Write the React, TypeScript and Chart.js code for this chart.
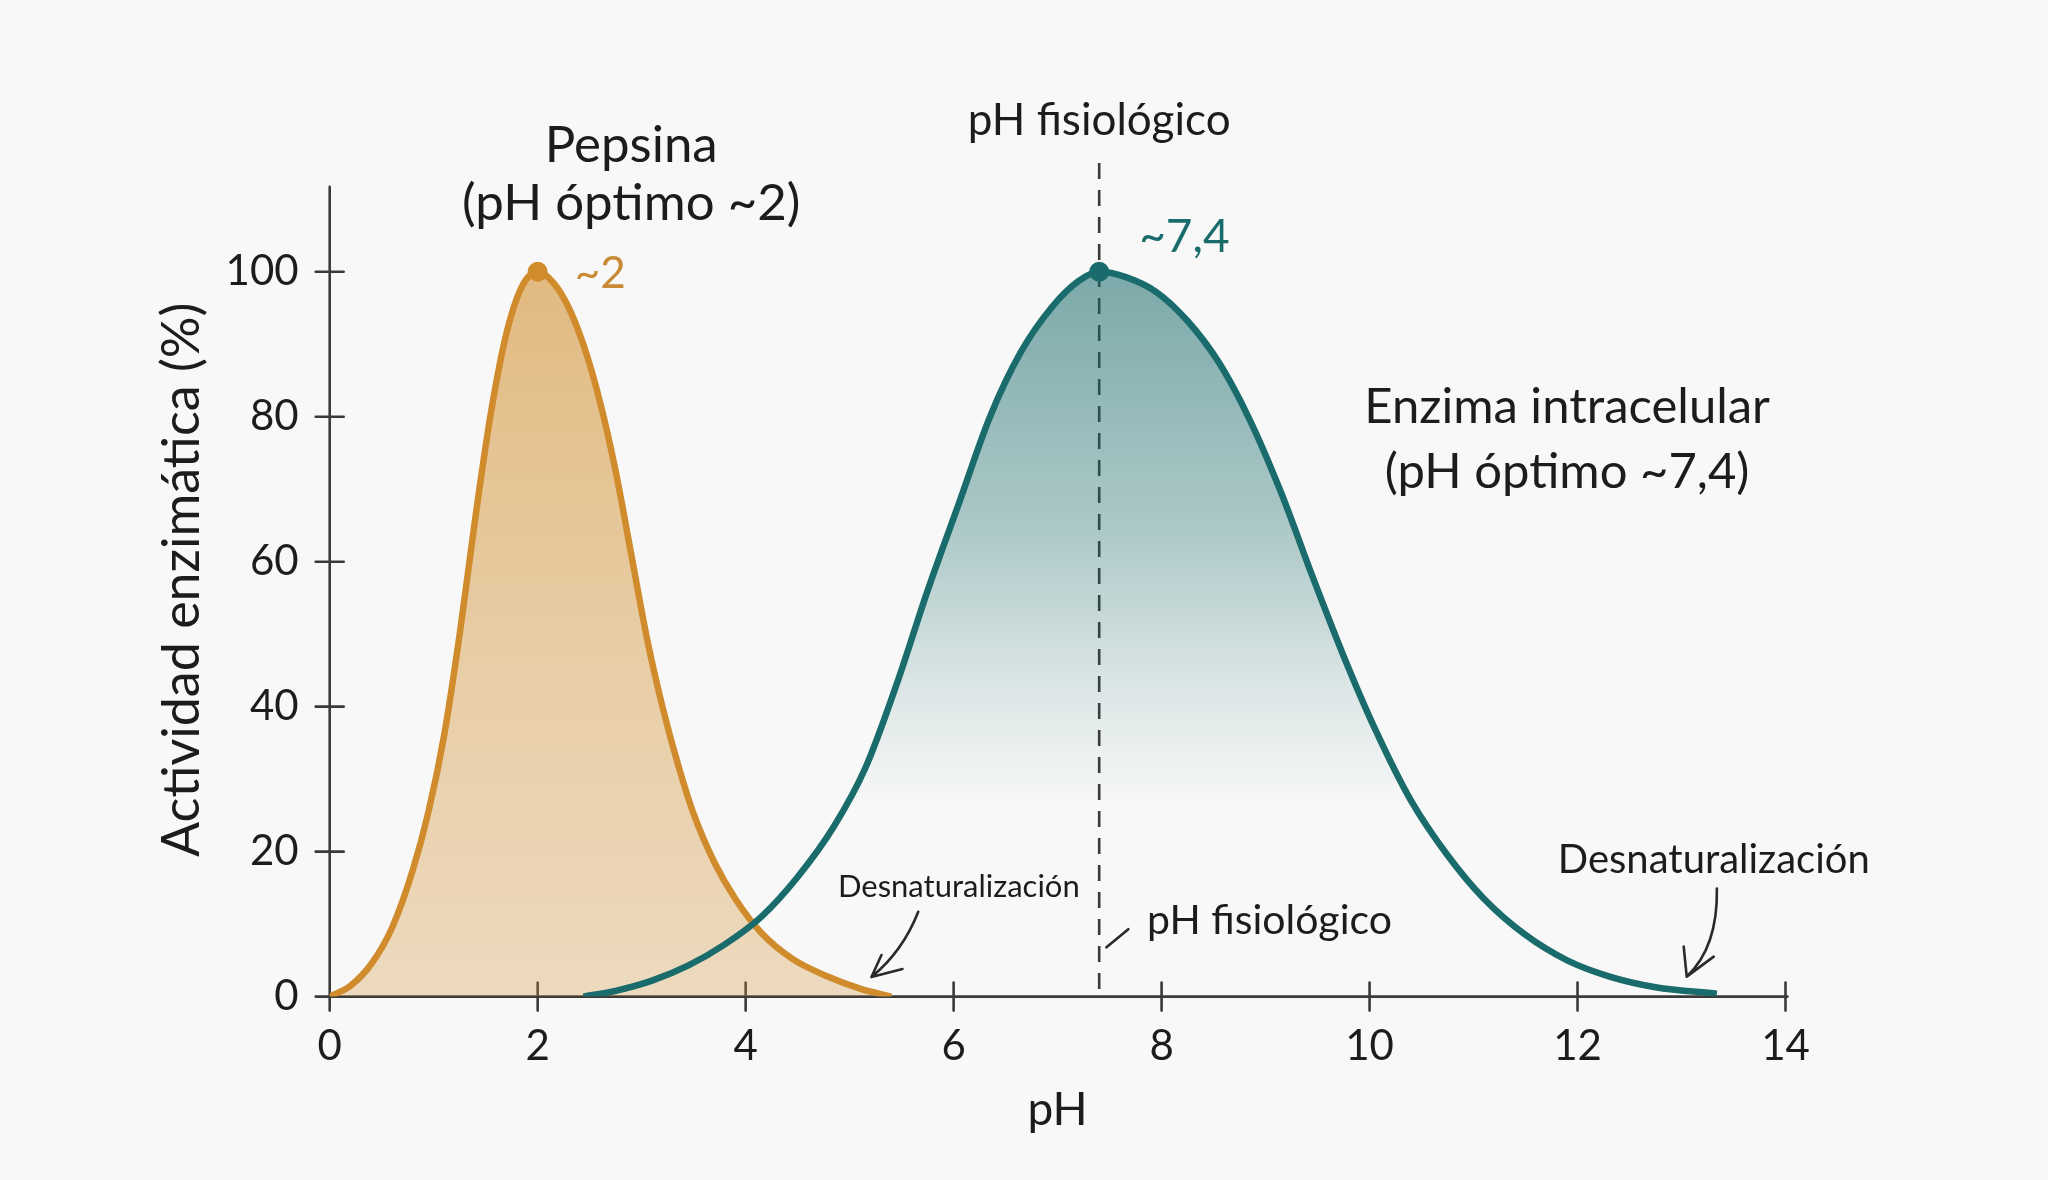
import React, { useEffect, useRef } from "react";
import { Chart, registerables } from "chart.js";

Chart.register(...registerables);

const FONT = "Lato, 'Open Sans', sans-serif";
const INK = "#1c1c1c";
const AXIS = "#3a3a3a";
const ORANGE = "#D08B2C";
const TEAL = "#1A6B6B";

// Axis ticks
const xTicks = [0, 2, 4, 6, 8, 10, 12, 14];
const yTicks = [0, 20, 40, 60, 80, 100];

// Pepsina: actividad (%) frente a pH
const pepsinaPH = [0, 0.2, 0.4, 0.6, 0.8, 0.95, 1.1, 1.25, 1.4, 1.55, 1.7, 1.85, 2.0, 2.15, 2.3, 2.45, 2.6, 2.75, 2.9, 3.05, 3.2, 3.35, 3.5, 3.7, 3.9, 4.15, 4.45, 4.8, 5.1, 5.4];
const pepsinaAct = [0, 1.5, 4.5, 9.5, 17.5, 25.5, 36, 50, 66, 80.5, 91.5, 98, 100, 98.5, 95, 89.5, 82, 72.5, 61, 49.5, 40, 32, 25.2, 18.5, 13.5, 8.8, 5.2, 2.7, 1.1, 0];

// Enzima intracelular: actividad (%) frente a pH
const enzimaPH = [2.44, 2.75, 3.1, 3.45, 3.8, 4.15, 4.5, 4.85, 5.15, 5.45, 5.75, 6.05, 6.35, 6.65, 6.95, 7.2, 7.4, 7.65, 7.95, 8.25, 8.55, 8.85, 9.15, 9.45, 9.75, 10.05, 10.4, 10.75, 11.1, 11.5, 11.9, 12.3, 12.75, 13.34];
const enzimaAct = [0, 0.8, 2.2, 4.3, 7.2, 11, 16.5, 23.5, 31.5, 43, 56, 68, 80, 89, 95.2, 98.7, 100, 99.3, 97.2, 93.2, 87.5, 79.5, 69.5, 58, 47, 37, 27, 19.5, 13.5, 8.5, 5, 2.8, 1.3, 0.4];

// Optimum and physiological pH
const pepsinaOptimo = 2;
const enzimaOptimo = 7.4;
const phFisiologico = 7.4;

const toPoints = (xs: number[], ys: number[]) => xs.map((x, i) => ({ x, y: ys[i] }));

function drawText(ctx: CanvasRenderingContext2D, s: string, x: number, y: number, size: number, color: string, align: CanvasTextAlign = "center") {
  ctx.font = `${size}px ${FONT}`;
  ctx.fillStyle = color;
  ctx.textAlign = align;
  ctx.textBaseline = "alphabetic";
  ctx.fillText(s, x, y);
}

function drawArrow(ctx: CanvasRenderingContext2D, s: number[], c: number[], t: number[], w1: number[], w2: number[]) {
  ctx.beginPath();
  ctx.moveTo(s[0], s[1]);
  ctx.quadraticCurveTo(c[0], c[1], t[0], t[1]);
  ctx.moveTo(t[0] + w1[0], t[1] + w1[1]);
  ctx.lineTo(t[0], t[1]);
  ctx.lineTo(t[0] + w2[0], t[1] + w2[1]);
  ctx.stroke();
}

const sketchPlugin = {
  id: "sketchAxes",
  beforeDatasetsDraw(chart: any) {
    const { ctx, scales } = chart;
    const x = scales.x;
    const y = scales.y;
    const x0 = x.getPixelForValue(0);
    const y0 = y.getPixelForValue(0);
    ctx.save();
    ctx.strokeStyle = AXIS;
    ctx.lineWidth = 2.6;
    ctx.lineCap = "round";
    ctx.beginPath();
    ctx.moveTo(x0, y.getPixelForValue(111.7));
    ctx.lineTo(x0, y0 + 14);
    ctx.moveTo(x0 - 14, y0);
    ctx.lineTo(x.getPixelForValue(14) + 2, y0);
    for (const v of xTicks) {
      if (v === 0) continue;
      const p = x.getPixelForValue(v);
      ctx.moveTo(p, y0 - 14);
      ctx.lineTo(p, y0 + 14);
    }
    for (const v of yTicks) {
      if (v === 0) continue;
      const p = y.getPixelForValue(v);
      ctx.moveTo(x0 - 14, p);
      ctx.lineTo(x0 + 14, p);
    }
    ctx.stroke();

    // physiological pH reference line
    const px = x.getPixelForValue(phFisiologico);
    ctx.setLineDash([16, 11]);
    ctx.lineCap = "butt";
    ctx.lineWidth = 2.6;
    ctx.beginPath();
    ctx.moveTo(px, y.getPixelForValue(115));
    ctx.lineTo(px, y0);
    ctx.stroke();
    ctx.restore();
  },
  afterDatasetsDraw(chart: any) {
    const { ctx, scales } = chart;
    const x = scales.x;
    const y = scales.y;
    const px = (v: number) => x.getPixelForValue(v);
    const py = (v: number) => y.getPixelForValue(v);
    ctx.save();

    // Pepsina heading and optimum label
    drawText(ctx, "Pepsina", px(2.9), py(115.2), 51, INK);
    drawText(ctx, "(pH óptimo ~2)", px(2.9), py(107.1), 51, INK);
    drawText(ctx, "~2", px(pepsinaOptimo) + 37, py(100) + 16, 44, "#C98A35", "left");

    // Intracellular enzyme heading and optimum label
    drawText(ctx, "~7,4", px(enzimaOptimo) + 40, py(100) - 20, 46, TEAL, "left");
    drawText(ctx, "Enzima intracelular", px(11.9), py(79.1), 49, INK);
    drawText(ctx, "(pH óptimo ~7,4)", px(11.9), py(70.2), 49, INK);

    // physiological pH captions
    drawText(ctx, "pH fisiológico", px(phFisiologico), py(118.8), 44, INK);
    drawText(ctx, "pH fisiológico", px(7.86), py(8.6), 41, INK, "left");

    // denaturation notes
    drawText(ctx, "Desnaturalización", px(6.05), py(13.7), 31, INK);
    drawText(ctx, "Desnaturalización", px(11.81), py(17), 40, INK, "left");

    ctx.strokeStyle = "#2a2a2a";
    ctx.lineWidth = 2.6;
    ctx.lineCap = "round";
    ctx.lineJoin = "round";
    ctx.beginPath();
    ctx.moveTo(px(7.47), py(6.8));
    ctx.lineTo(px(7.68), py(9.3));
    ctx.stroke();

    drawArrow(ctx, [px(5.66), py(11.7)], [px(5.51), py(6.2)], [px(5.21), py(2.7)], [10, -22], [31, -8]);
    drawArrow(ctx, [px(13.34), py(14.9)], [px(13.35), py(6.77)], [px(13.05), py(2.75)], [-3, -30], [27, -20]);

    ctx.restore();
  },
};

export default function App() {
  const canvasRef = useRef<HTMLCanvasElement | null>(null);

  useEffect(() => {
    const canvas = canvasRef.current;
    if (!canvas) return;

    const gradient = (chart: any, stops: [number, string][]) => {
      const { ctx, chartArea, scales } = chart;
      if (!chartArea) return stops[0][1];
      const g = ctx.createLinearGradient(0, scales.y.getPixelForValue(100), 0, scales.y.getPixelForValue(0));
      stops.forEach(([p, c]) => g.addColorStop(p, c));
      return g;
    };

    const chart = new Chart(canvas, {
      type: "line",
      data: {
        datasets: [
          {
            label: "Enzima intracelular",
            data: toPoints(enzimaPH, enzimaAct),
            borderColor: TEAL,
            borderWidth: 6.5,
            cubicInterpolationMode: "monotone",
            fill: "origin",
            backgroundColor: (c: any) =>
              gradient(c.chart, [
                [0, "rgba(26,107,107,0.56)"],
                [0.35, "rgba(26,107,107,0.34)"],
                [0.6, "rgba(26,107,107,0.1)"],
                [0.74, "rgba(26,107,107,0)"],
                [1, "rgba(26,107,107,0)"],
              ]),
            pointRadius: (c: any) => (c.raw && c.raw.x === enzimaOptimo ? 10 : 0),
            pointBackgroundColor: TEAL,
            pointBorderWidth: 0,
          },
          {
            label: "Pepsina",
            data: toPoints(pepsinaPH, pepsinaAct),
            borderColor: ORANGE,
            borderWidth: 6.5,
            cubicInterpolationMode: "monotone",
            fill: "origin",
            backgroundColor: (c: any) =>
              gradient(c.chart, [
                [0, "rgba(212,148,56,0.62)"],
                [0.5, "rgba(212,148,56,0.44)"],
                [1, "rgba(212,148,56,0.3)"],
              ]),
            pointRadius: (c: any) => (c.raw && c.raw.x === pepsinaOptimo ? 10 : 0),
            pointBackgroundColor: ORANGE,
            pointBorderWidth: 0,
          },
        ],
      },
      options: {
        responsive: false,
        maintainAspectRatio: false,
        devicePixelRatio: 1,
        animation: false,
        layout: { padding: { top: 163, right: 262.5, left: 0, bottom: 0 } },
        plugins: { legend: { display: false }, tooltip: { enabled: false } },
        scales: {
          x: {
            type: "linear",
            min: 0,
            max: 14,
            afterBuildTicks: (s: any) => {
              s.ticks = xTicks.map((v) => ({ value: v }));
            },
            afterFit: (s: any) => {
              s.height = 183.4;
            },
            ticks: { font: { family: FONT, size: 42 }, color: INK, padding: 25, maxRotation: 0, autoSkip: false },
            grid: { display: false, drawTicks: false },
            border: { display: false },
            title: { display: true, text: "pH", font: { family: FONT, size: 46 }, color: INK, padding: { top: 0, bottom: 42 } },
          },
          y: {
            type: "linear",
            min: 0,
            max: 115,
            afterBuildTicks: (s: any) => {
              s.ticks = yTicks.map((v) => ({ value: v }));
            },
            afterFit: (s: any) => {
              s.width = 329.7;
            },
            ticks: { font: { family: FONT, size: 42 }, color: INK, padding: 31 },
            grid: { display: false, drawTicks: false },
            border: { display: false },
            title: {
              display: true,
              text: "Actividad enzimática (%)",
              font: { family: FONT, size: 52 },
              color: INK,
              padding: { top: 151, bottom: 0 },
            },
          },
        },
      },
      plugins: [sketchPlugin],
    } as any);

    let alive = true;
    if ((document as any).fonts && (document as any).fonts.load) {
      (document as any).fonts.load(`42px Lato`).then(() => {
        if (alive) chart.update("none");
      });
    }

    return () => {
      alive = false;
      chart.destroy();
    };
  }, []);

  return (
    <div style={{ position: "fixed", left: 0, top: 0, width: 2048, height: 1180, background: "#F8F8F8" }}>
      <canvas ref={canvasRef} width={2048} height={1180} style={{ display: "block" }} />
    </div>
  );
}
